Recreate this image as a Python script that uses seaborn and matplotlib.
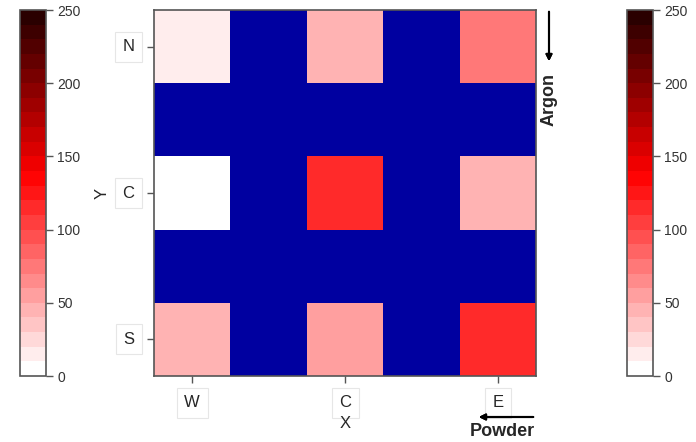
import matplotlib
matplotlib.use("Agg")
import matplotlib.pyplot as plt
import numpy as np
import pandas as pd
import seaborn as sns
from matplotlib.colors import LinearSegmentedColormap, ListedColormap, BoundaryNorm
from matplotlib.cm import ScalarMappable

# Grid labels (rows top to bottom, columns left to right)
row_labels = ["N", "", "C", "", "S"]
col_labels = ["W", "", "C", "", "E"]

# Values; NaN marks the blue gaps
row_n = [10, np.nan, 45, np.nan, 75]
row_gap = [np.nan] * 5
row_c = [0, np.nan, 115, np.nan, 45]
row_s = [40, np.nan, 55, np.nan, 115]

cbar_ticks = [0, 50, 100, 150, 200, 250]

sns.set_style("white")
plt.rcParams["font.family"] = ["Liberation Sans", "DejaVu Sans"]

df = pd.DataFrame([row_n, row_gap, row_c, row_gap, row_s],
                  index=row_labels, columns=col_labels)

# white -> red -> near black, in 25 steps of 10
base = LinearSegmentedColormap.from_list(
    "wr", [(0.0, "#ffffff"), (0.55, "#ff0000"), (1.0, "#2a0000")])
cmap = ListedColormap([base(i / 24) for i in range(25)])
bounds = np.arange(0, 251, 10)
norm = BoundaryNorm(bounds, cmap.N)

fig = plt.figure(figsize=(6.96, 4.42), dpi=100)
ax = fig.add_axes([154 / 696, 66 / 442, 382 / 696, 366 / 442])
cax_l = fig.add_axes([20 / 696, 66 / 442, 26 / 696, 366 / 442])
cax_r = fig.add_axes([627 / 696, 66 / 442, 26 / 696, 366 / 442])

ax.set_facecolor("#0000a0")
sns.heatmap(df, ax=ax, cmap=cmap, norm=norm, cbar=False, square=False,
            linewidths=0)

edge = "#555555"
for sp in ax.spines.values():
    sp.set_visible(True)
    sp.set_color(edge)
    sp.set_linewidth(1.2)

box = dict(boxstyle="square,pad=0.45", fc="white", ec="#e6e6e6", lw=0.8)
ax.set_xticks([0.5, 2.5, 4.5])
ax.set_xticklabels(["W", "C", "E"], fontsize=12, bbox=box)
ax.set_yticks([0.5, 2.5, 4.5])
ax.set_yticklabels(["N", "C", "S"], fontsize=12, bbox=box, rotation=0)
ax.tick_params(axis="both", length=5, width=1, color=edge, pad=9,
               bottom=True, left=True)
ax.set_xlabel("X", fontsize=12, labelpad=4)
ax.set_ylabel("Y", fontsize=12, labelpad=9)

for cax in (cax_l, cax_r):
    cb = fig.colorbar(ScalarMappable(norm=norm, cmap=cmap), cax=cax,
                      ticks=cbar_ticks)
    cb.minorticks_off()
    cb.outline.set_edgecolor(edge)
    cb.outline.set_linewidth(1.2)
    cax.tick_params(length=5, width=1, color=edge, labelsize=10,
                    labelcolor="#333333", pad=3)
    cax.yaxis.set_ticks_position("right")

# flow direction annotations
fig.text(549 / 696, 1 - 100 / 442, "Argon", rotation=90, fontsize=13,
         fontweight="bold", ha="center", va="center")
fig.add_artist(plt.annotate("", xy=(549 / 696, 1 - 64 / 442),
                            xytext=(549 / 696, 1 - 9 / 442),
                            xycoords="figure fraction",
                            arrowprops=dict(arrowstyle="-|>", color="black",
                                            lw=1.5, mutation_scale=9)))
fig.text(502 / 696, 1 - 432 / 442, "Powder", fontsize=13,
         fontweight="bold", ha="center", va="center")
fig.add_artist(plt.annotate("", xy=(476 / 696, 1 - 417 / 442),
                            xytext=(536 / 696, 1 - 417 / 442),
                            xycoords="figure fraction",
                            arrowprops=dict(arrowstyle="-|>", color="black",
                                            lw=1.5, mutation_scale=9)))

fig.savefig("out.png", dpi=100)
